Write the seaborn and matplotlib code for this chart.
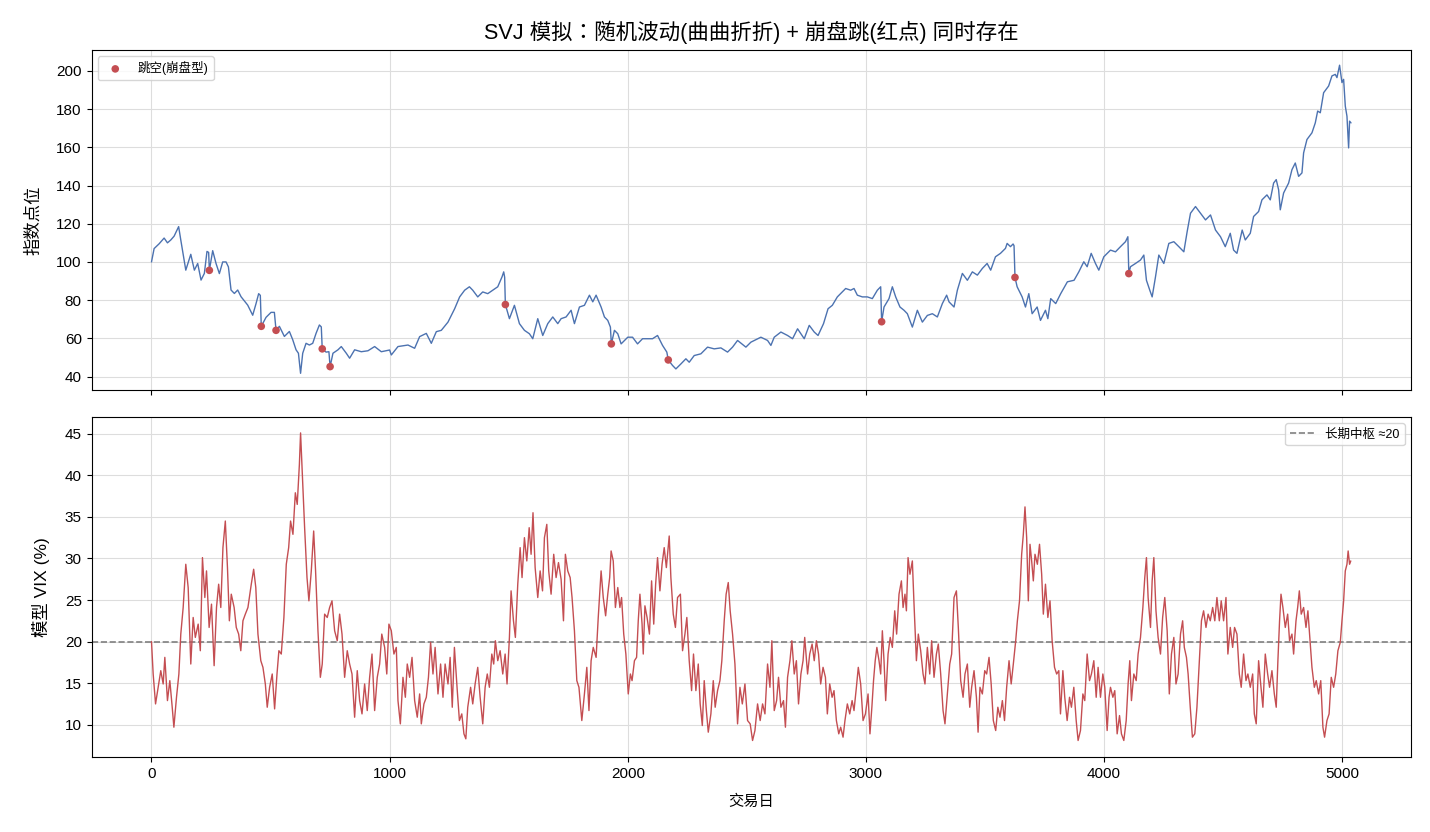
import matplotlib
matplotlib.use("Agg")
import matplotlib.pyplot as plt
import seaborn as sns

# ---------------- data ----------------
price_days = [0, 11, 32, 53, 67, 81, 95, 114, 123, 137, 144, 165, 180, 194, 208, 222, 233, 240, 243,
              257, 271, 285, 299, 313, 323, 334, 348, 362, 376, 404, 425, 439, 450, 457, 461,
              481, 502, 516, 523, 537, 558, 579, 593, 607, 617, 626, 635, 649, 663, 677, 691, 705,
              713, 717, 733, 745, 750, 762, 783, 797, 818, 832, 853, 881, 909, 937, 965, 1000,
              1007, 1035, 1077, 1105, 1126, 1154, 1175, 1196, 1217, 1245, 1273, 1294, 1315, 1335,
              1349, 1370, 1391, 1412, 1433, 1454, 1472, 1479, 1483, 1486, 1503, 1524, 1545, 1566,
              1587, 1601, 1622, 1643, 1664, 1685, 1706, 1720, 1741, 1762, 1776, 1797, 1818, 1839,
              1853, 1867, 1888, 1902, 1916, 1927, 1931, 1944, 1958, 1972, 2000, 2020, 2041, 2062,
              2083, 2104, 2125, 2146, 2164, 2170, 2188, 2202, 2223, 2244, 2258, 2279, 2307, 2335,
              2363, 2391, 2419, 2440, 2461, 2496, 2517, 2559, 2587, 2601, 2615, 2643, 2671, 2692,
              2713, 2741, 2762, 2783, 2799, 2822, 2841, 2859, 2880, 2915, 2936, 2950, 2964, 2985,
              3006, 3027, 3048, 3062, 3066, 3076, 3097, 3111, 3125, 3143, 3160, 3174, 3195, 3216,
              3237, 3258, 3279, 3300, 3321, 3339, 3349, 3370, 3384, 3405, 3426, 3447, 3468, 3489,
              3509, 3524, 3544, 3565, 3586, 3593, 3607, 3618, 3622, 3626, 3635, 3656, 3670, 3684,
              3698, 3719, 3733, 3754, 3764, 3776, 3797, 3818, 3846, 3874, 3894, 3915, 3929, 3946,
              3964, 3978, 3999, 4027, 4048, 4069, 4090, 4100, 4104, 4111, 4132, 4153, 4167, 4178,
              4192, 4202, 4216, 4230, 4251, 4272, 4293, 4314, 4335, 4349, 4363, 4384, 4405, 4426,
              4447, 4468, 4489, 4509, 4530, 4544, 4558, 4580, 4593, 4614, 4628, 4649, 4663, 4684,
              4698, 4712, 4723, 4733, 4740, 4754, 4775, 4789, 4803, 4817, 4831, 4838, 4852, 4873,
              4887, 4897, 4908, 4922, 4943, 4957, 4971, 4978, 4989, 4999, 5006, 5013, 5020, 5027,
              5031, 5037]
price_vals = [100, 107, 109.5, 112.5, 110, 111.5, 113.5, 118.5, 111.5, 101, 95.7, 104, 95.7, 99.2, 90.5, 94, 105.5, 105, 95.6,
              105.9, 99.2, 93.9, 100, 100, 97.4, 85.3, 83.5, 85.3, 81.8, 77.4, 72.1, 78.2, 83.4, 82.5, 66.3,
              71, 73.6, 73.6, 64.2, 66.3, 61, 63.6, 59.3, 54, 52.2, 41.7, 52.2, 57.4, 56.5, 57.4, 62.6, 67,
              66, 54.5, 52.8, 53, 45.2, 52.2, 54, 55.7, 52.2, 49.6, 54, 53, 53.5, 55.7, 53, 53.9,
              51.3, 55.7, 56.5, 54.8, 60.9, 62.6, 57.4, 63.5, 64.2, 68.5, 75.5, 81.7, 85.2, 87,
              85.2, 81.7, 84.3, 83.4, 85.2, 87, 92.2, 94.8, 92, 77.7, 70.3, 77.3, 67.7, 64.2,
              62.4, 59.8, 70.3, 61.5, 67.7, 71.2, 67.7, 70.3, 71.2, 74.7, 67.7, 76.4, 77.3, 82.6,
              79.1, 82.6, 76.4, 71.2, 69.4, 65.9, 57.1, 64.2, 62.4, 57.1, 60.6, 60.6, 57.1, 59.8,
              59.8, 59.8, 61.5, 56.3, 52.8, 48.7, 45.8, 44, 46.6, 49.3, 47.5, 51, 51.9, 55.4,
              54.5, 55, 52.8, 55.4, 58.9, 55.4, 58, 60.6, 58.9, 56.3, 60.6, 63.3, 61.5, 59.8,
              65, 59.8, 66.8, 63.3, 61.5, 67.7, 75.5, 77.3, 81.7, 86.1, 85.2, 86.1, 82.6, 81.7,
              81.7, 80.8, 85.2, 87, 68.7, 76.4, 80.8, 87, 81.7, 76.4, 74.7, 72.9, 65.9, 74.7,
              68.5, 72, 72.9, 71.2, 78.2, 82.6, 79.1, 76.4, 85.2, 94, 90.4, 94.8, 93.1, 96.6,
              99.2, 95.7, 102.7, 104.5, 107.1, 109.7, 108, 109.4, 108.5, 91.9, 87, 81.7, 76.4, 83.4,
              72.9, 76.4, 69.4, 74.7, 70.3, 80.8, 78.2, 83.4, 89.6, 90.4, 94.8, 100.1, 97.5, 104.5,
              99.2, 95.7, 102.7, 106.2, 105.3, 108, 110.6, 113.2, 93.9, 97.5, 99.2, 101, 103.6, 90.4,
              85.2, 81.7, 92.2, 103.6, 99.2, 109.7, 110.6, 108, 105.3, 115.9, 125.5, 129, 125.5, 122,
              124.6, 116.7, 113.2, 108, 115, 106.2, 104.5, 116.7, 111.5, 115, 123.8, 126.4, 132.5, 135.1,
              132.5, 141.3, 143.1, 137.8, 127.3, 136.1, 141.3, 148.3, 151.8, 144.8, 146.6, 157.1, 164.1, 167.6,
              172.8, 179, 178.1, 188.6, 192.1, 197.4, 198.2, 196.5, 203, 193.9, 195.6, 181.6, 176.3, 159.7,
              173.7, 172.8]

jump_days = [243, 461, 523, 717, 750, 1486, 1931, 2170, 3066, 3626, 4104]
jump_vals = [95.6, 66.3, 64.2, 54.5, 45.2, 77.7, 57.1, 48.7, 68.7, 91.9, 93.9]

vix_days = [0, 7, 17, 28, 39, 49, 56, 67, 77, 87, 94, 105, 115, 123, 133, 144, 154, 165, 175, 184,
            196, 205, 214, 224, 231, 242, 252, 263, 273, 282, 291, 300, 310, 319, 327, 335, 347, 356,
            366, 375, 384, 394, 405, 419, 429, 438, 447, 459, 468, 478, 486, 496, 507, 517, 527, 535,
            545, 556, 566, 576, 584, 594, 604, 612, 621, 626, 636, 643, 653, 661, 671, 681, 689, 699,
            709, 717, 727, 738, 748, 758, 769, 780, 790, 800, 811, 822, 832, 842, 853, 864, 874, 884,
            895, 906, 916, 926, 937, 948, 958, 967, 979, 988, 997,
            1007, 1018, 1028, 1035, 1045, 1056, 1066, 1074, 1084, 1094, 1105, 1116, 1126, 1133, 1144,
            1154, 1163, 1172, 1182, 1191, 1203, 1214, 1224, 1233, 1245, 1254, 1263, 1272, 1284, 1293,
            1303, 1312, 1320, 1328, 1340, 1349, 1359, 1370, 1380, 1391, 1401, 1410, 1419, 1429, 1437,
            1444, 1454, 1464, 1475, 1485, 1493, 1503, 1510, 1520, 1528, 1538, 1548, 1556, 1566, 1576,
            1586, 1594, 1602, 1611, 1622, 1632, 1642, 1650, 1660, 1668, 1678, 1689, 1699, 1709, 1720,
            1730, 1738, 1748, 1758, 1766, 1776, 1786, 1795, 1807, 1818, 1828, 1837, 1846, 1855, 1867,
            1876, 1888, 1897, 1907, 1916, 1924, 1930, 1939, 1948, 1958, 1967, 1974, 1983, 1992, 2002,
            2011,
            2018, 2028, 2037, 2044, 2051, 2060, 2065, 2072, 2081, 2091, 2100, 2109, 2117, 2125, 2135,
            2144, 2153, 2162, 2174, 2181, 2191, 2200, 2209, 2221, 2230, 2240, 2248, 2258, 2268, 2276,
            2286, 2296, 2304, 2313, 2321, 2330, 2338, 2349, 2359, 2367, 2377, 2387, 2395, 2405, 2413,
            2422, 2430, 2440, 2450, 2461, 2471, 2481, 2492, 2503, 2514, 2524, 2534, 2545, 2556, 2566,
            2576, 2587, 2597, 2605, 2615, 2625, 2633, 2643, 2654, 2662, 2671, 2681, 2689, 2699, 2708,
            2717, 2727, 2736, 2743, 2755, 2764, 2774, 2783, 2792, 2801, 2810, 2820, 2830, 2838, 2848,
            2858, 2866, 2876, 2886, 2894, 2904, 2912, 2922, 2932, 2942, 2950, 2960, 2968, 2978, 2988,
            2998, 3009, 3017,
            3025, 3032, 3039, 3046, 3055, 3062, 3069, 3076, 3083, 3093, 3102, 3111, 3121, 3129, 3139,
            3149, 3156, 3164, 3170, 3177, 3185, 3195, 3202, 3212, 3220, 3230, 3240, 3248, 3258, 3268,
            3276, 3286, 3296, 3304, 3314, 3324, 3332, 3342, 3352, 3360, 3370, 3380, 3388, 3398, 3408,
            3416, 3426, 3436, 3444, 3454, 3464, 3471, 3479, 3489, 3499, 3507, 3517, 3526, 3535, 3545,
            3554, 3563, 3573, 3582, 3591, 3601, 3610, 3619, 3629, 3636, 3645, 3654, 3661, 3668, 3675,
            3682, 3689, 3696, 3703, 3710, 3720, 3729, 3738, 3745, 3754, 3764, 3773, 3782, 3792, 3801,
            3810, 3817, 3827, 3835, 3845, 3855, 3863, 3873, 3883, 3891, 3901, 3911, 3919, 3929, 3939,
            3947, 3957, 3967, 3975, 3985, 3995, 4003, 4013, 4021,
            4027, 4037, 4045, 4055, 4065, 4073, 4083, 4093, 4101, 4108, 4115, 4125, 4135, 4143, 4153,
            4163, 4171, 4178, 4185, 4195, 4202, 4209, 4218, 4227, 4237, 4246, 4255, 4265, 4274, 4283,
            4293, 4302, 4311, 4321, 4330, 4337, 4346, 4353, 4362, 4371, 4381, 4390, 4400, 4409, 4418,
            4428, 4437, 4446, 4456, 4465, 4474, 4484, 4492, 4502, 4512, 4520, 4530, 4540, 4548, 4558,
            4568, 4576, 4586, 4596, 4604, 4614, 4624, 4631, 4639, 4649, 4659, 4667, 4677, 4687, 4695,
            4705, 4715, 4723, 4730, 4737, 4743, 4751, 4761, 4771, 4779, 4789, 4796, 4806, 4813, 4820,
            4828, 4838, 4848, 4856, 4863, 4873, 4883, 4891, 4901, 4910, 4919, 4926, 4936, 4945, 4954,
            4964, 4973, 4982, 4992, 4999, 5006, 5013, 5020, 5025, 5031, 5036]
vix_vals = [20, 16.1, 12.5, 14.5, 16.5, 14.9, 18.1, 12.9, 15.3, 12.1, 9.7, 13.3, 16.1, 20.9, 24.1, 29.3, 26.5, 17.3, 22.9, 20.5,
            22.1, 18.9, 30.1, 25.3, 28.5, 21.7, 24.5, 17.1, 24.1, 26.9, 24.1, 31.3, 34.5, 28.9, 22.5, 25.7, 24.1, 21.7,
            20.9, 18.9, 22.5, 23.3, 24.1, 26.9, 28.7, 26.5, 20.9, 17.7, 16.9, 14.9, 12.1, 14.5, 16.1, 11.9, 16.1, 18.9,
            18.5, 22.9, 29.3, 31.3, 34.5, 32.9, 37.9, 36.5, 41.3, 45.1, 38.5, 33.7, 27.7, 24.9, 28.5, 33.3, 28.5, 21.3,
            15.7, 17.3, 23.3, 22.9, 24.1, 24.9, 21.3, 20.1, 23.3, 20.9, 15.7, 18.9, 17.3, 16.1, 10.9, 16.5, 12.9, 11.3,
            14.9, 11.7, 15.7, 18.5, 11.7, 15.7, 17.3, 20.9, 19.3, 16.1, 22.1,
            21.3, 18.5, 19.3, 12.9, 10.1, 15.7, 13.3, 17.3, 15.7, 18.1, 12.9, 10.9, 13.7, 10.1, 12.5,
            13.3, 15.7, 19.9, 16.1, 19.3, 13.7, 17.3, 13.3, 17.3, 14.9, 18.1, 12.1, 19.3, 14.1, 10.5,
            11.3, 8.9, 8.3, 12.1, 14.5, 12.5, 14.9, 16.9, 13.3, 10.1, 14.5, 16.1, 14.5, 18.5, 17.3,
            20.1, 17.7, 18.9, 16.1, 18.5, 14.9, 20.5, 26.1, 22.5, 20.5, 26.9, 31.3, 27.7, 32.5, 29.7,
            33.7, 30.5, 35.5, 28.9, 25.3, 28.5, 26.1, 32.5, 34.1, 28.5, 25.7, 30.5, 27.7, 29.5, 27.5,
            22.5, 30.5, 28.5, 27.7, 25.3, 21.3, 15.3, 14.5, 10.5, 13.7, 16.9, 11.7, 17.7, 19.3, 18.1,
            22.9, 28.5, 25.3, 23.1, 25.7, 27.7, 30.9, 29.7, 24.1, 26.5, 24.1, 25.3, 20.9, 18.5, 13.7,
            16.1,
            15.3, 17.7, 18.1, 22.5, 25.7, 22.1, 18.5, 24.3, 22.9, 20.9, 27.3, 22.1, 26.9, 30.1, 26.1,
            29.3, 31.3, 28.9, 32.7, 27.7, 23.3, 21.7, 25.3, 25.7, 18.9, 20.9, 22.9, 17.7, 14.1, 18.5,
            14.1, 17.3, 12.5, 9.9, 15.3, 11.7, 9.1, 11.3, 15.3, 12.1, 14.1, 15.3, 17.7, 22.5, 25.7,
            27.1, 23.7, 20.9, 17.3, 10.1, 14.5, 12.5, 14.9, 10.5, 10.1, 8.1, 9.3, 12.5, 10.5, 12.5,
            11.3, 17.3, 14.5, 20.1, 11.7, 12.9, 15.7, 12.1, 12.9, 9.7, 15.7, 17.7, 20.1, 16.1, 17.7,
            12.5, 16.1, 17.7, 20.5, 16.1, 18.5, 19.7, 17.7, 20.1, 18.5, 14.9, 16.9, 15.7, 11.3, 14.9,
            13.3, 14.1, 10.5, 8.9, 9.7, 8.5, 10.5, 12.5, 11.3, 12.9, 11.7, 14.5, 16.9, 14.9, 10.5,
            11.3, 13.7, 8.9,
            12.1, 15.3, 17.7, 19.3, 17.7, 16.1, 21.3, 17.7, 12.9, 18.5, 20.5, 19.3, 23.7, 20.9, 25.7,
            27.3, 24.1, 25.7, 23.7, 30.1, 28.1, 29.7, 24.5, 17.7, 20.9, 18.9, 16.1, 14.9, 19.3, 16.1,
            20.1, 15.7, 18.5, 19.7, 16.1, 11.7, 10.1, 13.7, 17.3, 18.5, 25.3, 26.1, 21.7, 15.3, 13.3,
            16.1, 17.3, 12.1, 14.5, 16.5, 13.3, 9.1, 14.5, 13.7, 16.5, 16.1, 18.1, 14.9, 10.5, 9.3,
            12.1, 10.9, 12.9, 10.5, 14.5, 17.7, 14.9, 17.3, 20.1, 22.5, 24.9, 30.5, 32.9, 36.2, 32.5,
            24.9, 31.7, 29.7, 27.3, 30.5, 29.3, 31.7, 28.1, 23.3, 26.9, 22.9, 24.9, 20.1, 16.9, 16.1,
            16.5, 11.3, 16.5, 13.3, 10.5, 13.3, 12.1, 14.5, 10.5, 8.1, 9.3, 13.7, 12.9, 18.5, 15.3,
            16.1, 17.7, 13.3, 16.9, 13.3, 16.1, 14.5, 9.3, 13.3,
            14.5, 13.3, 14.1, 8.9, 11.1, 8.9, 8.1, 10.5, 14.9, 17.7, 12.9, 16.1, 15.3, 18.5, 20.5,
            24.1, 27.7, 30.1, 25.3, 21.7, 27.3, 30.1, 23.7, 20.5, 18.5, 22.9, 25.3, 21.3, 13.7, 18.5,
            20.5, 14.9, 16.1, 20.9, 22.5, 19.3, 18.1, 16.1, 12.1, 8.5, 8.9, 12.1, 17.7, 22.5, 23.7,
            21.7, 23.3, 22.5, 24.1, 22.5, 25.3, 22.5, 24.9, 22.5, 25.3, 18.5, 21.7, 19.3, 21.7, 20.9,
            16.1, 14.5, 18.5, 15.3, 16.1, 14.5, 16.1, 11.3, 10.1, 17.7, 14.5, 12.1, 18.5, 16.1, 14.5,
            16.5, 13.7, 12.1, 17.7, 22.5, 25.7, 24.1, 21.7, 23.3, 20.1, 20.9, 18.5, 22.5, 24.1, 26.1,
            23.3, 24.1, 21.7, 23.7, 20.9, 16.9, 14.5, 15.3, 13.7, 15.3, 9.7, 8.5, 10.5, 11.3, 15.7,
            14.5, 16.1, 18.9, 19.9, 22.5, 24.9, 28.5, 29.3, 30.9, 29.3, 29.7]

vix_center = 20

# ---------------- style ----------------
sns.set_style("ticks", {"axes.grid": True, "grid.color": "#dddddd", "axes.edgecolor": "black",
                        "text.color": "black", "axes.labelcolor": "black",
                        "xtick.color": "black", "ytick.color": "black"})
plt.rcParams["font.family"] = ["Liberation Sans", "Noto Sans CJK SC", "DejaVu Sans"]
plt.rcParams["axes.unicode_minus"] = False

BLUE = "#4C72B0"
RED = "#C44E52"

fig, (ax1, ax2) = plt.subplots(2, 1, figsize=(14.3, 8.32), dpi=100, sharex=True)
fig.subplots_adjust(left=0.064, right=0.9867, top=0.94, bottom=0.09, hspace=0.08)

# top: index with jumps
sns.lineplot(x=price_days, y=price_vals, ax=ax1, color=BLUE, linewidth=1.0,
             estimator=None, sort=False, zorder=2)
sns.scatterplot(x=jump_days, y=jump_vals, ax=ax1, color=RED, s=30, edgecolor="none",
                zorder=3, label="跳空(崩盘型)")
ax1.set_ylabel("指数点位", fontsize=12.5, labelpad=11)
ax1.set_title("SVJ 模拟：随机波动(曲曲折折) + 崩盘跳(红点) 同时存在", fontsize=15.5, pad=8,
              family=["Liberation Sans", "Noto Sans CJK TC", "DejaVu Sans"])
ax1.legend(loc="upper left", fontsize=9, frameon=True)
ax1.tick_params(labelsize=11)
ax1.set_ylim(33, 211)

# bottom: VIX
sns.lineplot(x=vix_days, y=vix_vals, ax=ax2, color=RED, linewidth=1.0,
             estimator=None, sort=False, zorder=2)
ax2.axhline(vix_center, color="gray", linestyle="--", linewidth=1.2, label="长期中枢 ≈20", zorder=1)
ax2.set_ylabel("模型 VIX (%)", fontsize=12.5, labelpad=11)
ax2.set_xlabel("交易日", fontsize=11, labelpad=10)
ax2.legend(loc="upper right", fontsize=9, frameon=True)
ax2.tick_params(labelsize=11)
ax2.set_ylim(6.1, 47)

for ax in (ax1, ax2):
    ax.grid(True, color="#dddddd", linewidth=0.8)
    for sp in ax.spines.values():
        sp.set_visible(True)
        sp.set_color("black")

fig.savefig("out.png", dpi=100)
